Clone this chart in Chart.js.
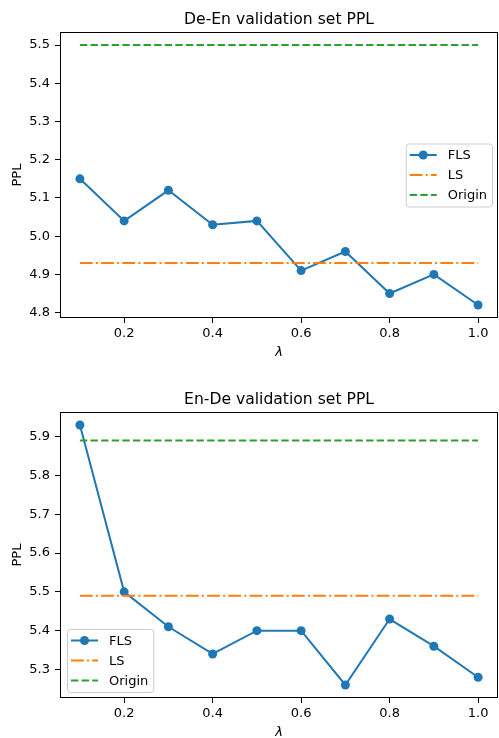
<!DOCTYPE html>
<html>
<head>
<meta charset="utf-8">
<script src="https://cdn.jsdelivr.net/npm/chart.js@4"></script>
<style>
  html, body { margin: 0; padding: 0; background: #fff; overflow: hidden; width: 499px; height: 738px; }
  .panel { position: absolute; left: 0; width: 499px; height: 369px; }
</style>
</head>
<body>
<div class="panel" style="top:0"><canvas id="deEn" width="499" height="369"></canvas></div>
<div class="panel" style="top:380px"><canvas id="enDe" width="499" height="369"></canvas></div>
<script>
// lambda values on the x axis
const lambdas = [0.1, 0.2, 0.3, 0.4, 0.5, 0.6, 0.7, 0.8, 0.9, 1.0];
const xTicks = [0.2, 0.4, 0.6, 0.8, 1.0];

// De-En validation PPL
const deEnFLS = [5.15, 5.04, 5.12, 5.03, 5.04, 4.91, 4.96, 4.85, 4.90, 4.82];
const deEnLS = [4.93, 4.93, 4.93, 4.93, 4.93, 4.93, 4.93, 4.93, 4.93, 4.93];
const deEnOrigin = [5.5, 5.5, 5.5, 5.5, 5.5, 5.5, 5.5, 5.5, 5.5, 5.5];
const deEnTicks = [4.8, 4.9, 5.0, 5.1, 5.2, 5.3, 5.4, 5.5];

// En-De validation PPL
const enDeFLS = [5.93, 5.50, 5.41, 5.34, 5.40, 5.40, 5.26, 5.43, 5.36, 5.28];
const enDeLS = [5.49, 5.49, 5.49, 5.49, 5.49, 5.49, 5.49, 5.49, 5.49, 5.49];
const enDeOrigin = [5.89, 5.89, 5.89, 5.89, 5.89, 5.89, 5.89, 5.89, 5.89, 5.89];
const enDeTicks = [5.3, 5.4, 5.5, 5.6, 5.7, 5.8, 5.9];

Chart.defaults.font.family = '"DejaVu Sans", sans-serif';
Chart.defaults.font.size = 13;
Chart.defaults.color = '#000';

// matplotlib-like full box around the axes
const frame = {
  id: 'frame',
  afterDatasetsDraw(chart) {
    const a = chart.chartArea, ctx = chart.ctx;
    ctx.save();
    ctx.strokeStyle = '#000';
    ctx.lineWidth = 1;
    ctx.strokeRect(Math.round(a.left) + 0.5, Math.round(a.top) + 0.5,
                   Math.round(a.right - a.left) - 1, Math.round(a.bottom - a.top) - 1);
    ctx.restore();
  }
};

// legend box drawn inside the axes
const boxLegend = {
  id: 'boxLegend',
  afterDraw(chart, args, opts) {
    const ctx = chart.ctx, a = chart.chartArea;
    const sets = chart.data.datasets;
    ctx.save();
    ctx.font = '13px "DejaVu Sans"';
    const textW = Math.max(...sets.map(d => ctx.measureText(d.label).width));
    const w = 42 + textW + 5, h = 63;
    let x, y;
    if (opts.loc === 'center right') {
      x = a.right - 6 - w;
      y = (a.top + a.bottom) / 2 - h / 2;
    } else {
      x = a.left + 7;
      y = a.bottom - 6 - h;
    }
    ctx.beginPath();
    ctx.roundRect(x + 0.5, y + 0.5, w, h, 3);
    ctx.fillStyle = 'rgba(255,255,255,0.8)';
    ctx.fill();
    ctx.strokeStyle = '#cccccc';
    ctx.lineWidth = 1;
    ctx.stroke();
    sets.forEach((d, i) => {
      const yy = y + 11.5 + i * 20;
      ctx.beginPath();
      ctx.strokeStyle = d.borderColor;
      ctx.lineWidth = d.borderWidth;
      ctx.setLineDash(d.borderDash || []);
      ctx.moveTo(x + 4, yy);
      ctx.lineTo(x + 31, yy);
      ctx.stroke();
      ctx.setLineDash([]);
      if (d.pointRadius > 0) {
        ctx.beginPath();
        ctx.fillStyle = d.borderColor;
        ctx.arc(x + 17.5, yy, d.pointRadius, 0, Math.PI * 2);
        ctx.fill();
      }
      ctx.fillStyle = '#000';
      ctx.textBaseline = 'middle';
      ctx.textAlign = 'left';
      ctx.fillText(d.label, x + 42, yy + 1);
    });
    ctx.restore();
  }
};

function pts(arr) {
  return lambdas.map((x, i) => ({x: x, y: arr[i]}));
}

function makeChart(id, title, fls, ls, origin, yMin, yMax, yTicks, loc) {
  return new Chart(document.getElementById(id), {
    type: 'line',
    data: {
      datasets: [
        {label: 'FLS', data: pts(fls), borderColor: '#1f77b4', backgroundColor: '#1f77b4',
         pointBackgroundColor: '#1f77b4', pointBorderColor: '#1f77b4',
         borderWidth: 2, pointRadius: 4.5, pointBorderWidth: 0, pointHoverRadius: 4.5, order: 3},
        {label: 'LS', data: pts(ls), borderColor: '#ff7f0e', borderWidth: 2,
         borderDash: [12.8, 3.2, 2, 3.2], pointRadius: 0, order: 2},
        {label: 'Origin', data: pts(origin), borderColor: '#2ca02c', borderWidth: 2,
         borderDash: [7.4, 3.2], pointRadius: 0, order: 1}
      ]
    },
    options: {
      responsive: false,
      devicePixelRatio: 1,
      animation: false,
      layout: {autoPadding: false, padding: {left: 0, right: 1, top: 0, bottom: 0}},
      plugins: {
        legend: {display: false},
        tooltip: {enabled: false},
        title: {display: true, text: title, fullSize: false,
                font: {size: 15.6, weight: 'normal'}, color: '#000',
                padding: {top: 10.5, bottom: 2.8}},
        boxLegend: {loc: loc}
      },
      scales: {
        x: {
          type: 'linear', min: 0.055, max: 1.045,
          afterBuildTicks: s => { s.ticks = xTicks.map(v => ({value: v})); },
          afterFit: s => { s.height = 51; s.paddingLeft = 0; s.paddingRight = 0; },
          grid: {drawOnChartArea: false, tickLength: 5, color: '#000'},
          border: {display: false},
          ticks: {padding: 3, color: '#000', maxRotation: 0, autoSkip: false,
                  callback: v => v.toFixed(1)},
          title: {display: true, text: 'λ', color: '#000', font: {size: 13, style: 'italic'},
                  padding: {top: 0, bottom: 9}}
        },
        y: {
          type: 'linear', min: yMin, max: yMax,
          afterBuildTicks: s => { s.ticks = yTicks.map(v => ({value: v})); },
          afterFit: s => { s.width = 60; s.paddingTop = 0; s.paddingBottom = 0; },
          grid: {drawOnChartArea: false, tickLength: 5, color: '#000'},
          border: {display: false},
          ticks: {padding: 5, color: '#000', autoSkip: false, callback: v => v.toFixed(1)},
          title: {display: true, text: 'PPL', color: '#000', font: {size: 13},
                  padding: {top: 10, bottom: 0}}
        }
      }
    },
    plugins: [frame, boxLegend]
  });
}

makeChart('deEn', 'De-En validation set PPL', deEnFLS, deEnLS, deEnOrigin, 4.786, 5.534, deEnTicks, 'center right');
makeChart('enDe', 'En-De validation set PPL', enDeFLS, enDeLS, enDeOrigin, 5.2265, 5.9635, enDeTicks, 'lower left');
</script>
</body>
</html>
